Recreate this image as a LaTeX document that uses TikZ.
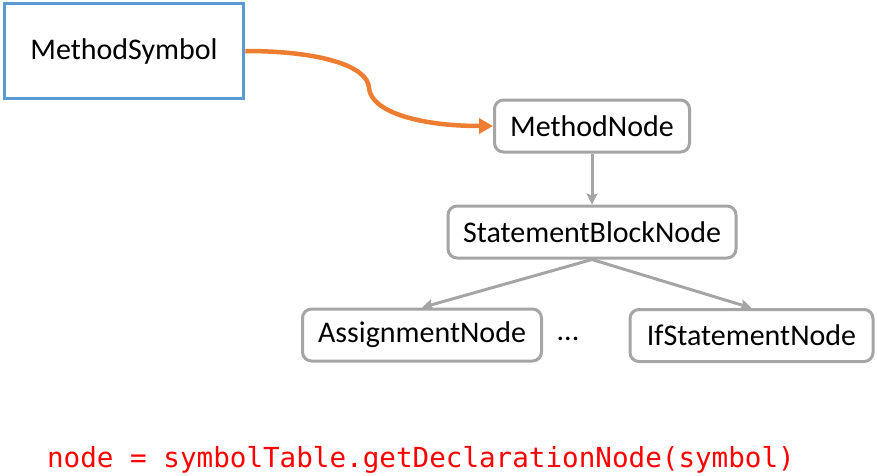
\documentclass[tikz,border=0pt]{standalone}
\usepackage{fontspec}
\setmainfont{Carlito}
\newfontfamily\codefont{DejaVu Sans Mono}
\usetikzlibrary{arrows.meta}
\definecolor{boxblue}{HTML}{5B9BD5}
\definecolor{arrorange}{HTML}{ED7D31}
\definecolor{boxgray}{HTML}{A5A5A5}
\definecolor{codered}{HTML}{FF0000}
\tikzset{
  symbox/.style={draw=boxblue, line width=3.5pt, fill=white, inner sep=0pt,
    minimum width=239pt, minimum height=95pt, font=\fontsize{30}{36}\selectfont},
  treebox/.style={draw=boxgray, line width=3pt, rounded corners=9pt, fill=white,
    inner sep=0pt, minimum height=52pt, font=\fontsize{30}{36}\selectfont},
  treearrow/.style={draw=boxgray, line width=3pt, -{Stealth[length=11pt,width=11pt,inset=2pt]}},
  refarrow/.style={draw=arrorange, line width=4.5pt, -{Triangle[length=14pt,width=15pt]}}
}
\begin{document}
\begin{tikzpicture}[x=1pt,y=-1pt]
\useasboundingbox (0,0) rectangle (877,475);
\node[symbox] (ms) at (124,51) {MethodSymbol};
\node[treebox, minimum width=195pt] (mn) at (592,126) {MethodNode};
\node[treebox, minimum width=288pt] (sb) at (592,232) {StatementBlockNode};
\node[treebox, minimum width=239pt] (as) at (422,335) {AssignmentNode};
\node[treebox, minimum width=243pt] (is) at (751.5,335.5) {IfStatementNode};
\node[font=\fontsize{30}{36}\selectfont, inner sep=0pt] (dots) at (568,339) {...};
\node[anchor=base, inner sep=0pt, text=codered, font=\codefont\fontsize{27.6}{33}\selectfont] (code) at (421,467)
  {node = symbolTable.getDeclarationNode(symbol)};
\draw[refarrow] (ms.east) .. controls (320,51) and (368,66) .. (369,88)
  .. controls (371,112) and (420,126) .. (mn.west);
\draw[treearrow] (mn.south) -- (sb.north);
\draw[treearrow] (sb.south) -- (as.north);
\draw[treearrow] (sb.south) -- (is.north);
\end{tikzpicture}
\end{document}
